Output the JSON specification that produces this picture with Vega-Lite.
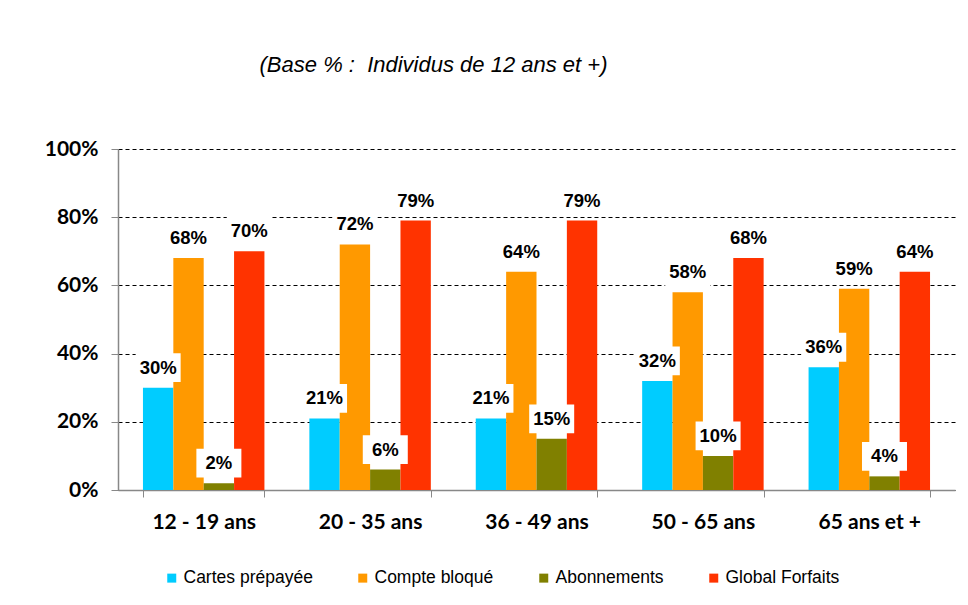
{
  "$schema": "https://vega.github.io/schema/vega-lite/v6.json",
  "width": 837,
  "height": 341,
  "autosize": {"type": "none"},
  "padding": {"left": 118, "top": 149, "right": 13, "bottom": 115},
  "background": "white",
  "title": {
    "text": "(Base % :\u00a0 Individus de 12 ans et +)",
    "font": "Liberation Sans",
    "fontStyle": "italic",
    "fontWeight": "normal",
    "fontSize": 22,
    "color": "black",
    "anchor": "middle",
    "frame": "group",
    "dx": -103,
    "offset": 61
  },
  "config": {"view": {"stroke": null}},
  "data": {
    "values": [
      {"groupe": "12 - 19 ans", "serie": "Cartes prépayée", "valeur": 0.30},
      {"groupe": "12 - 19 ans", "serie": "Compte bloqué", "valeur": 0.68},
      {"groupe": "12 - 19 ans", "serie": "Abonnements", "valeur": 0.02},
      {"groupe": "12 - 19 ans", "serie": "Global Forfaits", "valeur": 0.70},
      {"groupe": "20 - 35 ans", "serie": "Cartes prépayée", "valeur": 0.21},
      {"groupe": "20 - 35 ans", "serie": "Compte bloqué", "valeur": 0.72},
      {"groupe": "20 - 35 ans", "serie": "Abonnements", "valeur": 0.06},
      {"groupe": "20 - 35 ans", "serie": "Global Forfaits", "valeur": 0.79},
      {"groupe": "36 - 49 ans", "serie": "Cartes prépayée", "valeur": 0.21},
      {"groupe": "36 - 49 ans", "serie": "Compte bloqué", "valeur": 0.64},
      {"groupe": "36 - 49 ans", "serie": "Abonnements", "valeur": 0.15},
      {"groupe": "36 - 49 ans", "serie": "Global Forfaits", "valeur": 0.79},
      {"groupe": "50 - 65 ans", "serie": "Cartes prépayée", "valeur": 0.32},
      {"groupe": "50 - 65 ans", "serie": "Compte bloqué", "valeur": 0.58},
      {"groupe": "50 - 65 ans", "serie": "Abonnements", "valeur": 0.10},
      {"groupe": "50 - 65 ans", "serie": "Global Forfaits", "valeur": 0.68},
      {"groupe": "65 ans et +", "serie": "Cartes prépayée", "valeur": 0.36},
      {"groupe": "65 ans et +", "serie": "Compte bloqué", "valeur": 0.59},
      {"groupe": "65 ans et +", "serie": "Abonnements", "valeur": 0.04},
      {"groupe": "65 ans et +", "serie": "Global Forfaits", "valeur": 0.64}
    ]
  },
  "encoding": {
    "x": {
      "field": "groupe",
      "type": "nominal",
      "sort": ["12 - 19 ans", "20 - 35 ans", "36 - 49 ans", "50 - 65 ans", "65 ans et +"],
      "scale": {"paddingInner": 0.27, "paddingOuter": 0.15},
      "axis": {
        "title": null,
        "labelAngle": 0,
        "tickBand": "extent",
        "tickSize": 7,
        "tickColor": "#888888",
        "domainColor": "#888888",
        "domainWidth": 1.5,
        "labelFont": "Lato",
        "labelFontWeight": "bold",
        "labelFontSize": 21,
        "labelColor": "black",
        "labelPadding": 14,
        "grid": false
      }
    },
    "xOffset": {
      "field": "serie",
      "type": "nominal",
      "sort": ["Cartes prépayée", "Compte bloqué", "Abonnements", "Global Forfaits"]
    },
    "y": {
      "field": "valeur",
      "type": "quantitative",
      "scale": {"domain": [0, 1], "nice": false},
      "axis": {
        "title": null,
        "values": [0, 0.2, 0.4, 0.6, 0.8, 1],
        "format": ".0%",
        "grid": true,
        "gridColor": "black",
        "gridDash": [4, 3],
        "gridWidth": 1,
        "tickSize": 7,
        "tickColor": "#888888",
        "domainColor": "#888888",
        "domainWidth": 1.5,
        "labelFont": "Lato",
        "labelFontWeight": "bold",
        "labelFontSize": 21,
        "labelColor": "black",
        "labelPadding": 13
      }
    }
  },
  "layer": [
    {
      "mark": {"type": "bar"},
      "encoding": {
        "color": {
          "field": "serie",
          "type": "nominal",
          "sort": ["Cartes prépayée", "Compte bloqué", "Abonnements", "Global Forfaits"],
          "scale": {
            "domain": ["Cartes prépayée", "Compte bloqué", "Abonnements", "Global Forfaits"],
            "range": ["#00CCFF", "#FF9900", "#808000", "#FF3300"]
          },
          "legend": {
            "title": null,
            "orient": "none",
            "legendX": 45,
            "legendY": 420,
            "direction": "horizontal",
            "symbolType": "square",
            "symbolSize": 81,
            "symbolStrokeWidth": 0,
            "symbolOpacity": 1,
            "labelFont": "Liberation Sans",
            "labelFontSize": 17.5,
            "labelColor": "black",
            "labelOffset": 3,
            "columnPadding": 41
          }
        }
      }
    },
    {
      "mark": {
        "type": "point",
        "shape": "M-1,-0.64H1V0.64H-1Z",
        "size": 2025,
        "filled": true,
        "fill": "white",
        "opacity": 1,
        "strokeWidth": 0,
        "yOffset": -20
      },
      "encoding": {}
    },
    {
      "mark": {
        "type": "text",
        "yOffset": -20,
        "baseline": "middle",
        "font": "Liberation Sans",
        "fontWeight": "bold",
        "fontSize": 18.5,
        "color": "black"
      },
      "encoding": {
        "text": {"field": "valeur", "type": "quantitative", "format": ".0%"}
      }
    }
  ]
}
